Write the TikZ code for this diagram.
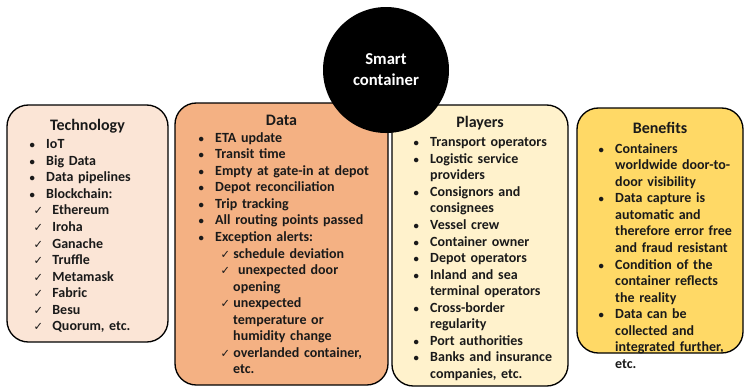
\documentclass[tikz,border=0pt]{standalone}
\usepackage{fontspec,enumitem}
\setmainfont{Carlito}
\newfontfamily\tickfont{DejaVu Sans}
\definecolor{techfill}{HTML}{FBE5D6}
\definecolor{datafill}{HTML}{F4B183}
\definecolor{playerfill}{HTML}{FFF2CC}
\definecolor{benefitfill}{HTML}{FFD966}
\definecolor{inktext}{HTML}{1A1A1A}
\setlist[itemize,1]{label={\fontsize{8}{8}\selectfont\textbullet}, align=left, leftmargin=12.5pt, labelwidth=5pt, labelsep=7.5pt, topsep=0pt, itemsep=0pt, parsep=0pt, partopsep=0pt}
\setlist[itemize,2]{label={\tickfont\fontsize{8.5}{8.5}\selectfont ✓}, align=left, leftmargin=4.5pt, labelwidth=7pt, labelsep=7pt, topsep=0pt, itemsep=0pt, parsep=0pt, partopsep=0pt}
\begin{document}
\begin{tikzpicture}[x=0.75pt,y=-0.75pt,
    panel/.style={draw=black, line width=1pt, rounded corners=16pt, inner sep=0pt},
    head/.style={anchor=base, inner sep=0pt, text=inktext, font=\bfseries\fontsize{12}{14}\selectfont},
    items/.style={anchor=north west, inner sep=0pt, text width=150pt, align=left, text=inktext, font=\bfseries\fontsize{10.5}{12.4}\selectfont},
    hub/.style={circle, fill=black, minimum size=94.5pt, inner sep=0pt, align=center, text=white, font=\bfseries\fontsize{12.5}{15.75}\selectfont}]
  \useasboundingbox (0,0) rectangle (746,387);
  % the four panels
  \node[panel, fill=techfill, minimum width=120.75pt, minimum height=177.75pt] (tech) at (87.5,223.5) {};
  \node[panel, fill=datafill, minimum width=159.75pt, minimum height=211.5pt] (data) at (281.5,244) {};
  \node[panel, fill=playerfill, minimum width=132pt, minimum height=210.75pt] (players) at (480,245.5) {};
  \node[panel, fill=benefitfill, minimum width=124.5pt, minimum height=183.75pt] (benefits) at (660,230.5) {};
  % headings
  \node[head] (techhead) at (87.5,130) {Technology};
  \node[head] (datahead) at (281.5,125) {Data};
  \node[head] (playershead) at (480,127) {Players};
  \node[head] (benefitshead) at (660,133) {Benefits};
  % lists
  \node[items] (techlist) at (29.3,132) {%
    \begin{itemize}
      \item IoT
      \item Big Data
      \item Data pipelines
      \item Blockchain:
      \begin{itemize}
        \item Ethereum
        \item Iroha
        \item Ganache
        \item Truffle
        \item Metamask
        \item Fabric
        \item Besu
        \item Quorum, etc.
      \end{itemize}
    \end{itemize}};
  \node[items] (datalist) at (198.3,125.5) {%
    \begin{itemize}
      \item ETA update
      \item Transit time
      \item Empty at gate-in at depot
      \item Depot reconciliation
      \item Trip tracking
      \item All routing points passed
      \item Exception alerts:
      \begin{itemize}[leftmargin=13.5pt, labelsep=2.5pt]
        \item schedule deviation
        \item \ unexpected door\\opening
        \item unexpected\\temperature or\\humidity change
        \item overlanded container,\\etc.
      \end{itemize}
    \end{itemize}};
  \node[items] (playerslist) at (413.3,130) {%
    \begin{itemize}
      \item Transport operators
      \item Logistic service\\providers
      \item Consignors and\\consignees
      \item Vessel crew
      \item Container owner
      \item Depot operators
      \item Inland and sea\\terminal operators
      \item Cross-border\\regularity
      \item Port authorities
      \item Banks and insurance\\companies, etc.
    \end{itemize}};
  \node[items] (benefitslist) at (598.3,136.5) {%
    \begin{itemize}
      \item Containers\\worldwide door-to-\\door visibility
      \item Data capture is\\automatic and\\therefore error free\\and fraud resistant
      \item Condition of the\\container reflects\\the reality
      \item Data can be\\collected and\\integrated further,\\etc.
    \end{itemize}};
  % hub on top
  \node[hub] (smart) at (386,70) {Smart\\container};
\end{tikzpicture}
\end{document}
